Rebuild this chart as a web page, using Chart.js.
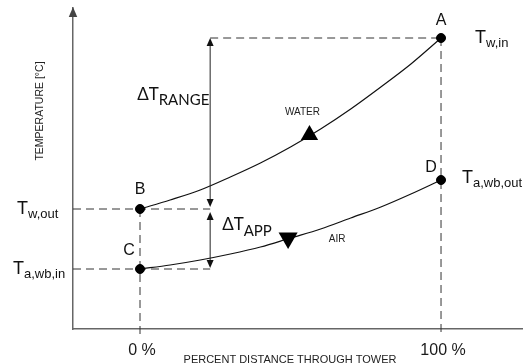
<!DOCTYPE html>
<html><head><meta charset="utf-8">
<script src="https://cdn.jsdelivr.net/npm/chart.js@4"></script>
<style>html,body{margin:0;padding:0;background:#fff}#wrap{width:523px;height:364px;position:relative}</style>
</head><body><div id="wrap"><canvas id="c" width="523" height="364"></canvas></div>
<script>
// ---- data ----
const distancePct = [0, 10, 20, 30, 40, 50, 60, 70, 80, 90, 100];
const waterTemp   = [26.0, 26.9, 27.9, 29.2, 30.6, 32.2, 34.0, 36.0, 38.2, 40.5, 43.1];
const airTemp     = [20.0, 20.4, 20.9, 21.5, 22.2, 23.1, 24.0, 25.1, 26.2, 27.5, 28.9];
const stateLabels = ['A', 'B', 'C', 'D'];
const statePct    = [100, 0, 0, 100];
const stateTemp   = [43.1, 26.0, 20.0, 28.9];
const tempMain    = ['T', 'T', 'T', 'T'];
const tempSub     = ['w,in', 'w,out', 'a,wb,in', 'a,wb,out'];
const xTickValues = [0, 100];
const xTickLabels = ['0 %', '100 %'];
const flowLabels  = ['WATER', 'AIR'];
const flowPct     = [56.3, 49.2];
const flowTemp    = [33.4, 23.1];
const deltaSub    = ['RANGE', 'APP'];
const deltaPct    = 23.3;
const xTitle = 'PERCENT DISTANCE THROUGH TOWER';
const yTitle = 'TEMPERATURE [°C]';

const [tIn, tOut, tWbIn, tWbOut] = [stateTemp[0], stateTemp[1], stateTemp[2], stateTemp[3]];
const X_MIN = -22.26, Y_MIN = 14;
const AR = 'Liberation Sans, Arial, sans-serif';
const LATO = 'Lato, Liberation Sans, sans-serif';

const pts = (xs, ys) => xs.map((x, i) => ({x, y: ys[i]}));
const dashed = (a, b) => ({type: 'line', data: [a, b], borderColor: '#333', borderWidth: 1, borderDash: [8, 5], pointRadius: 0, clip: false, order: 5});

function head(ctx, tx, ty, dx, dy, len, w) {
  const bx = tx - dx * len, by = ty - dy * len, px = -dy, py = dx;
  ctx.beginPath();
  ctx.moveTo(tx, ty);
  ctx.lineTo(bx + px * w / 2, by + py * w / 2);
  ctx.lineTo(bx - px * w / 2, by - py * w / 2);
  ctx.closePath();
  ctx.fill();
}
function subText(ctx, x, y, main, sub, mf, sf, drop) {
  ctx.textAlign = 'left';
  ctx.font = mf; ctx.fillText(main, x, y);
  const w = ctx.measureText(main).width;
  ctx.font = sf; ctx.fillText(sub, x + w, y + drop);
}

const ann = {
  id: 'ann',
  afterDatasetsDraw(chart) {
    const ctx = chart.ctx, xs = chart.scales.x, ys = chart.scales.y, ca = chart.chartArea;
    const X = v => xs.getPixelForValue(v), Y = v => ys.getPixelForValue(v);
    ctx.save();
    // y axis arrow head
    ctx.fillStyle = '#444';
    head(ctx, ca.left, ca.top - 1, 0, -1, 10, 8.5);
    // double arrows
    ctx.strokeStyle = '#222'; ctx.fillStyle = '#111'; ctx.lineWidth = 1;
    const ax = X(deltaPct);
    const segs = [[Y(tIn), Y(tOut) - 2], [Y(tOut) + 3, Y(tWbIn) - 1]];
    segs.forEach(([t, b]) => {
      ctx.beginPath(); ctx.moveTo(ax, t + 3); ctx.lineTo(ax, b - 3); ctx.stroke();
      head(ctx, ax, t, 0, -1, 8, 7);
      head(ctx, ax, b, 0, 1, 8, 7);
    });
    // point letters
    ctx.fillStyle = '#111';
    ctx.font = '16px ' + AR; ctx.textAlign = 'center'; ctx.textBaseline = 'alphabetic';
    const letterOff = [[0, -13], [0, -15], [-11, -14], [-10, -8]];
    stateLabels.forEach((l, i) => ctx.fillText(l, X(statePct[i]) + letterOff[i][0], Y(stateTemp[i]) + letterOff[i][1]));
    // x tick labels (positioned by the x scale)
    ctx.font = '16px ' + AR; ctx.fillStyle = '#1a1a1a';
    xTickValues.forEach((v, i) => ctx.fillText(xTickLabels[i], X(v) + 2, ca.bottom + 26));
    // temperature names
    ctx.fillStyle = '#111';
    const mf = '18px ' + AR, sf = '13px ' + AR;
    subText(ctx, X(statePct[0]) + 34, Y(stateTemp[0]) + 5, tempMain[0], tempSub[0], mf, sf, 4);
    subText(ctx, ca.left - 56, Y(stateTemp[1]) + 5, tempMain[1], tempSub[1], mf, sf, 4);
    subText(ctx, ca.left - 60, Y(stateTemp[2]) + 5, tempMain[2], tempSub[2], mf, sf, 4);
    subText(ctx, X(statePct[3]) + 21, Y(stateTemp[3]) + 3, tempMain[3], tempSub[3], mf, sf, 4);
    // delta labels
    const dmf = '17px ' + LATO, dsf = '15px ' + LATO;
    subText(ctx, ax - 73, Y(tIn) + 62, '\u0394T', deltaSub[0], dmf, dsf, 5);
    subText(ctx, ax + 12, Y(tOut) + 21, '\u0394T', deltaSub[1], dmf, dsf, 6);
    // flow labels
    ctx.font = '10px ' + AR; ctx.textAlign = 'center'; ctx.fillStyle = '#222';
    ctx.fillText(flowLabels[0], X(flowPct[0]) - 7, Y(flowTemp[0]) - 20);
    ctx.fillText(flowLabels[1], X(flowPct[1]) + 49, Y(flowTemp[1]) + 4);
    // axis titles
    ctx.font = '11px ' + AR;
    ctx.fillText(xTitle, 290, 363);
    ctx.save();
    ctx.translate(43, 111); ctx.rotate(-Math.PI / 2);
    ctx.font = '10.5px ' + AR; ctx.fillText(yTitle, 0, 0);
    ctx.restore();
    ctx.restore();
  }
};

new Chart(document.getElementById('c'), {
  type: 'line',
  data: {
    datasets: [
      {data: pts(distancePct, waterTemp), borderColor: '#111', borderWidth: 1.2, pointRadius: 0, cubicInterpolationMode: 'monotone', order: 3},
      {data: pts(distancePct, airTemp), borderColor: '#111', borderWidth: 1.2, pointRadius: 0, cubicInterpolationMode: 'monotone', order: 3},
      dashed({x: deltaPct, y: tIn}, {x: 100, y: tIn}),
      dashed({x: X_MIN, y: tOut}, {x: deltaPct, y: tOut}),
      dashed({x: X_MIN, y: tWbIn}, {x: deltaPct, y: tWbIn}),
      dashed({x: 0, y: tOut}, {x: 0, y: Y_MIN - 0.6}),
      dashed({x: 100, y: tIn}, {x: 100, y: Y_MIN - 0.6}),
      {type: 'scatter', data: pts(statePct, stateTemp), pointRadius: 4.5, pointBackgroundColor: '#000', pointBorderColor: '#000', showLine: false, order: 1},
      {type: 'scatter', data: pts(flowPct, flowTemp), pointStyle: 'triangle', pointRadius: [10, 11], rotation: [0, 180], pointBackgroundColor: '#000', pointBorderColor: '#000', pointBorderWidth: 0, showLine: false, order: 1}
    ]
  },
  options: {
    responsive: false, animation: false, devicePixelRatio: 1,
    layout: {autoPadding: false, padding: {left: 73, right: 1, top: 8, bottom: 35}},
    plugins: {legend: {display: false}, tooltip: {enabled: false}},
    scales: {
      x: {type: 'linear', min: X_MIN, max: 126.9,
        grid: {display: false, drawTicks: false},
        border: {display: true, color: '#666', width: 1.5},
        ticks: {display: false}},
      y: {type: 'linear', min: Y_MIN, max: 46.1,
        grid: {display: false, drawTicks: false},
        border: {display: true, color: '#666', width: 1.5},
        ticks: {display: false}}
    }
  },
  plugins: [ann]
});
</script></body></html>
